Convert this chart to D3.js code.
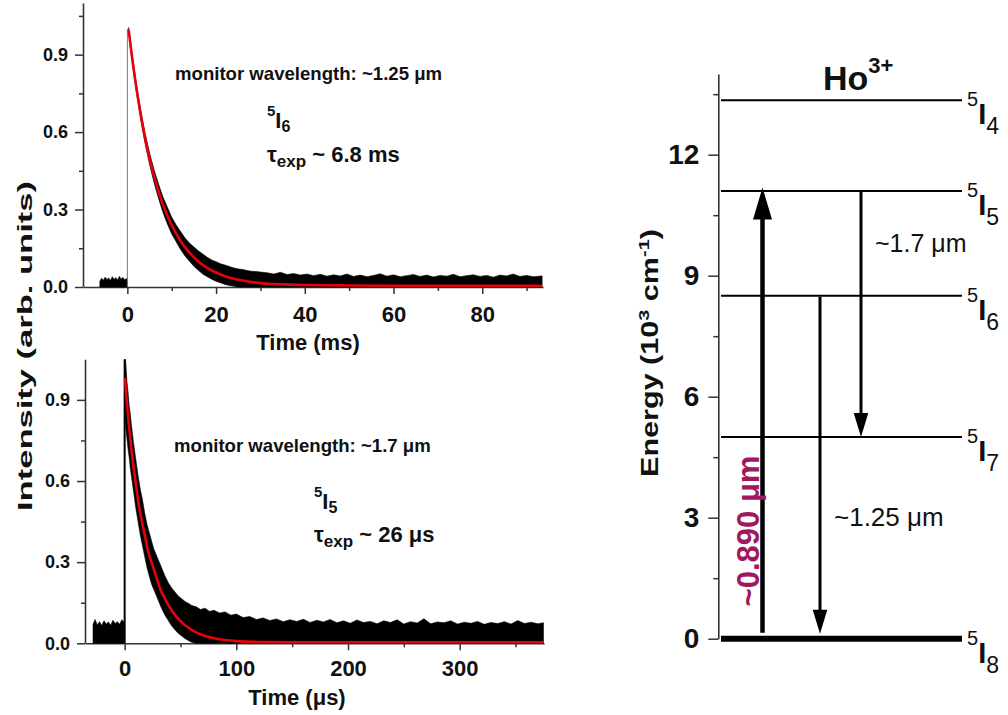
<!DOCTYPE html>
<html>
<head>
<meta charset="utf-8">
<script src="https://cdn.jsdelivr.net/npm/d3@7"></script>
<style>
  body { margin: 0; background: #fff; }
  svg { font-family: "Liberation Sans", Arial, sans-serif; }
</style>
</head>
<body>
<script>
// ---------- upper panel: 5I6 decay, time in ms ----------
let preTime1 = [-6.2, -5.8, -5.4, -5.0, -4.6, -4.2, -3.8, -3.4, -3.0, -2.6, -2.2, -1.8, -1.4, -1.0, -0.6, -0.2, 0];
let preHigh1 = [0.022, 0.034, 0.026, 0.038, 0.029, 0.035, 0.025, 0.04, 0.03, 0.036, 0.027, 0.041, 0.031, 0.037, 0.028, 0.033, 0.03];
let time1 = [0.3, 1, 2, 3, 4, 5, 6, 7, 8, 9,
  10, 11, 12, 13, 14, 15, 16, 17, 18, 19,
  20, 21, 22, 23, 24, 25, 26, 27, 28, 29,
  30, 31.5, 33, 34.5, 36, 37.5, 39, 40.5, 42, 43.5,
  45, 46.5, 48, 49.5, 51, 52.5, 54, 55.5, 57, 58.5,
  60, 61.5, 63, 64.5, 66, 67.5, 69, 70.5, 72, 73.5,
  75, 76.5, 78, 79.5, 81, 82.5, 84, 85.5, 87, 88.5,
  90, 91.5, 93.5];
let high1 = [1.005, 0.91, 0.79, 0.685, 0.595, 0.52, 0.455, 0.40, 0.35, 0.31,
  0.27, 0.24, 0.215, 0.19, 0.17, 0.155, 0.14, 0.128, 0.115, 0.105,
  0.098, 0.09, 0.085, 0.079, 0.074, 0.07, 0.068, 0.064, 0.061, 0.06,
  0.058, 0.055, 0.05, 0.057, 0.048, 0.052, 0.046, 0.05, 0.044, 0.049,
  0.042, 0.047, 0.043, 0.05, 0.041, 0.046, 0.04, 0.045, 0.051, 0.042,
  0.047, 0.04, 0.044, 0.048, 0.041, 0.046, 0.039, 0.045, 0.042, 0.049,
  0.04, 0.044, 0.047, 0.041, 0.045, 0.038, 0.046, 0.043, 0.05, 0.041,
  0.045, 0.04, 0.043];
let low1 = [0.985, 0.885, 0.76, 0.65, 0.555, 0.475, 0.405, 0.345, 0.29, 0.245,
  0.205, 0.175, 0.145, 0.12, 0.1, 0.08, 0.065, 0.05, 0.04, 0.03,
  0.022, 0.016, 0.01, 0.006, 0.003, 0, 0, 0, 0, 0,
  0, 0, 0, 0, 0, 0, 0, 0, 0, 0,
  0, 0, 0, 0, 0, 0, 0, 0, 0, 0,
  0, 0, 0, 0, 0, 0, 0, 0, 0, 0,
  0, 0, 0, 0, 0, 0, 0, 0, 0, 0,
  0, 0, 0];
let fitTime1 = [0.3, 1, 2, 3, 4, 5, 6, 7, 8, 9, 10, 12, 14, 16, 18, 20, 22, 24, 26, 28, 30, 35, 40, 50, 60, 93.5];
let fitValue1 = [0.995, 0.898, 0.775, 0.669, 0.577, 0.498, 0.43, 0.371, 0.32, 0.277, 0.239, 0.178, 0.133, 0.099, 0.074, 0.056, 0.042, 0.032, 0.025, 0.019, 0.015, 0.01, 0.008, 0.006, 0.005, 0.005];
let peak1 = 1.0;
let xTicks1 = [0, 20, 40, 60, 80];
let xMinor1 = [10, 30, 50, 70, 90];

// ---------- lower panel: 5I5 decay, time in us ----------
let preTime2 = [-28.3, -26.5, -24.5, -22.5, -20.5, -18.5, -16.5, -14.5, -12.5, -10.5, -8.5, -6.5, -4.5, -2.5, -0.5, 0];
let preHigh2 = [0.07, 0.088, 0.068, 0.08, 0.066, 0.083, 0.071, 0.079, 0.067, 0.085, 0.073, 0.08, 0.07, 0.087, 0.078, 0.08];
let time2 = [0.5, 1, 2, 3, 4, 5, 6, 8, 10, 12,
  14, 16, 18, 20, 22, 24, 26, 28, 30, 33,
  36, 39, 42, 45, 48, 51, 54, 57, 60, 64,
  68, 72, 76, 80, 85, 90, 95, 100, 106, 112,
  118, 124, 130, 136, 142, 148, 154, 160, 166, 172,
  178, 184, 190, 196, 202, 208, 214, 220, 226, 232,
  238, 244, 250, 256, 262, 268, 274, 280, 286, 292,
  298, 304, 310, 316, 322, 328, 334, 340, 346, 352,
  358, 364, 370, 375];
let high2 = [1.05, 1.04, 0.97, 0.93, 0.88, 0.85, 0.81, 0.74, 0.68, 0.62,
  0.57, 0.53, 0.48, 0.44, 0.41, 0.38, 0.35, 0.33, 0.31, 0.28,
  0.25, 0.225, 0.205, 0.19, 0.175, 0.165, 0.155, 0.148, 0.14, 0.135,
  0.125, 0.13, 0.118, 0.122, 0.112, 0.116, 0.104, 0.108, 0.095, 0.099,
  0.088, 0.094, 0.084, 0.09, 0.08, 0.087, 0.081, 0.089, 0.077, 0.085,
  0.079, 0.088, 0.076, 0.083, 0.074, 0.086, 0.077, 0.081, 0.072, 0.083,
  0.077, 0.087, 0.071, 0.08, 0.075, 0.091, 0.072, 0.079, 0.076, 0.083,
  0.071, 0.078, 0.074, 0.081, 0.07, 0.077, 0.073, 0.08, 0.071, 0.084,
  0.073, 0.078, 0.072, 0.076];
let low2 = [0.82, 0.8, 0.76, 0.72, 0.69, 0.65, 0.62, 0.56, 0.5, 0.45,
  0.4, 0.36, 0.32, 0.28, 0.25, 0.22, 0.2, 0.18, 0.16, 0.13,
  0.105, 0.085, 0.065, 0.05, 0.037, 0.027, 0.018, 0.01, 0.004, 0,
  0, 0, 0, 0, 0, 0, 0, 0, 0, 0,
  0, 0, 0, 0, 0, 0, 0, 0, 0, 0,
  0, 0, 0, 0, 0, 0, 0, 0, 0, 0,
  0, 0, 0, 0, 0, 0, 0, 0, 0, 0,
  0, 0, 0, 0, 0, 0, 0, 0, 0, 0,
  0, 0, 0, 0];
let fitTime2 = [0.3, 2, 4, 6, 8, 10, 12, 15, 18, 21, 24, 28, 32, 36, 40, 45, 50, 55, 60, 70, 80, 90, 100, 120, 150, 200, 375];
let fitValue2 = [0.98, 0.89, 0.8, 0.72, 0.65, 0.59, 0.53, 0.46, 0.4, 0.34, 0.3, 0.25, 0.2, 0.165, 0.135, 0.105, 0.082, 0.064, 0.05, 0.03, 0.019, 0.012, 0.008, 0.005, 0.004, 0.004, 0.004];
let peak2 = 1.05;
let xTicks2 = [0, 100, 200, 300];
let xMinor2 = [50, 150, 250, 350];

let yTicksDecay = [0, 0.3, 0.6, 0.9];
let yMinorDecay = [0.15, 0.45, 0.75, 1.05];

// ---------- energy levels of Ho3+ (10^3 cm^-1) ----------
let levelJ = ["8", "7", "6", "5", "4"];
let levelEnergy = [0, 5.0, 8.5, 11.1, 13.35];
let energyTicks = [0, 3, 6, 9, 12];
let energyMinor = [1.5, 4.5, 7.5, 10.5, 13.5];
let arrowFrom = ["8", "5", "6"];
let arrowTo = ["5", "7", "8"];
let arrowLabel = ["~0.890 \u03bcm", "~1.7 \u03bcm", "~1.25 \u03bcm"];

// ---------------------------------------------------------
let svg = d3.select("body").append("svg").attr("width", 1008).attr("height", 715);
svg.append("rect").attr("width", 1008).attr("height", 715).attr("fill", "#fff");

let axisColor = "#333";

let styleAxis = (g, size) => {
  g.select(".domain").attr("stroke", axisColor).attr("stroke-width", 1.6);
  g.selectAll(".tick line").attr("stroke", axisColor).attr("stroke-width", 1.5);
  g.selectAll(".tick text")
    .attr("fill", "#111")
    .style("font-size", size + "px")
    .style("font-weight", "bold");
};

let panel = (o) => {
  let x = d3.scaleLinear().domain(o.xDomain).range(o.xRange);
  let y = d3.scaleLinear().domain(o.yDomain).range(o.yRange);
  let g = svg.append("g");

  // axes
  let gx = g.append("g")
    .attr("transform", `translate(0,${y(0)})`)
    .call(d3.axisBottom(x).tickValues(o.xTicks).tickSize(7).tickSizeOuter(0).tickFormat(d3.format("d")));
  styleAxis(gx, 22);
  gx.selectAll(".tick text").attr("y", o.xLabelOffset).attr("dy", 0);
  let gxm = g.append("g")
    .attr("transform", `translate(0,${y(0)})`)
    .call(d3.axisBottom(x).tickValues(o.xMinor).tickSize(4).tickFormat(""));
  gxm.select(".domain").remove();
  gxm.selectAll(".tick line").attr("stroke", axisColor).attr("stroke-width", 1.5);

  let gy = g.append("g")
    .attr("transform", `translate(${o.xRange[0]},0)`)
    .call(d3.axisLeft(y).tickValues(yTicksDecay).tickSize(8).tickSizeOuter(0).tickFormat(d3.format(".1f")));
  styleAxis(gy, 18);
  gy.selectAll(".tick text").attr("x", -15);
  let gym = g.append("g")
    .attr("transform", `translate(${o.xRange[0]},0)`)
    .call(d3.axisLeft(y).tickValues(o.yMinor).tickSize(4).tickFormat(""));
  gym.select(".domain").remove();
  gym.selectAll(".tick line").attr("stroke", axisColor).attr("stroke-width", 1.5);

  // measured trace: noise band
  let area = d3.area().x((d) => x(d.t)).y0((d) => y(d.lo)).y1((d) => y(d.hi));
  let pre = o.preT.map((t, i) => ({ t: t, lo: 0, hi: o.preHi[i] }));
  let dec = o.t.map((t, i) => ({ t: t, lo: o.lo[i], hi: o.hi[i] }));
  g.append("path").datum(pre).attr("d", area)
    .attr("fill", "#000").attr("stroke", "#000").attr("stroke-width", 0.6);
  g.append("line")
    .attr("x1", x(0)).attr("x2", x(0))
    .attr("y1", y(0)).attr("y2", y(o.peak))
    .attr("stroke", o.edgeColor).attr("stroke-width", o.edgeWidth);
  g.append("path").datum(dec).attr("d", area)
    .attr("fill", "#000").attr("stroke", "#000").attr("stroke-width", 0.6);

  // exponential fit
  let fit = o.fitT.map((t, i) => ({ t: t, v: o.fitV[i] }));
  g.append("path").datum(fit)
    .attr("d", d3.line().x((d) => x(d.t)).y((d) => y(d.v)).curve(d3.curveMonotoneX))
    .attr("fill", "none").attr("stroke", "#e8000b").attr("stroke-width", 2.6);

  // axis title
  g.append("text")
    .attr("x", o.titleX).attr("y", o.titleY)
    .attr("text-anchor", "middle")
    .style("font-size", "22px").style("font-weight", "bold").attr("fill", "#111")
    .text(o.title);

  // annotations
  let a = o.note;
  g.append("text").attr("x", a.x).attr("y", a.y)
    .style("font-size", "18.6px").style("font-weight", "bold").attr("fill", "#111")
    .text(a.monitor);
  let lv = g.append("text").attr("x", a.lx).attr("y", a.ly)
    .style("font-weight", "bold").attr("fill", "#111");
  lv.append("tspan").style("font-size", "15px").attr("dy", -12).text("5");
  lv.append("tspan").style("font-size", "22px").attr("dy", 12).text("I");
  lv.append("tspan").style("font-size", "16px").attr("dy", 4).text(a.j);
  let tau = g.append("text").attr("x", a.lx).attr("y", a.ty)
    .style("font-weight", "bold").attr("fill", "#111");
  tau.append("tspan").style("font-size", "22px").text("\u03c4");
  tau.append("tspan").style("font-size", "17px").attr("dy", 5).text("exp");
  tau.append("tspan").style("font-size", "22px").attr("dy", -5).text(" ~ " + a.tau);
};

panel({
  xDomain: [-10, 93.7], xRange: [83, 543],
  yDomain: [0, 1.1], yRange: [287, 3],
  xTicks: xTicks1, xMinor: xMinor1, yMinor: yMinorDecay,
  xLabelOffset: 35,
  preT: preTime1, preHi: preHigh1,
  t: time1, hi: high1, lo: low1,
  fitT: fitTime1, fitV: fitValue1,
  peak: peak1, edgeColor: "#777", edgeWidth: 1,
  title: "Time (ms)", titleX: 308, titleY: 350,
  note: { x: 175, y: 80, monitor: "monitor wavelength: ~1.25 \u03bcm",
          lx: 267, ly: 128, j: "6", ty: 162, tau: "6.8 ms" }
});

panel({
  xDomain: [-35.5, 375.5], xRange: [85, 544],
  yDomain: [0, 1.05], yRange: [643.3, 359.3],
  xTicks: xTicks2, xMinor: xMinor2, yMinor: yMinorDecay.slice(0, 3),
  xLabelOffset: 33,
  preT: preTime2, preHi: preHigh2,
  t: time2, hi: high2, lo: low2,
  fitT: fitTime2, fitV: fitValue2,
  peak: peak2, edgeColor: "#000", edgeWidth: 2,
  title: "Time (\u03bcs)", titleX: 297, titleY: 705,
  note: { x: 174, y: 452, monitor: "monitor wavelength: ~1.7 \u03bcm",
          lx: 314, ly: 509, j: "5", ty: 542, tau: "26 \u03bcs" }
});

// shared y title of the decay panels
svg.append("text")
  .attr("transform", "translate(32,346) rotate(-90)")
  .attr("text-anchor", "middle")
  .attr("textLength", 330).attr("lengthAdjust", "spacingAndGlyphs")
  .style("font-size", "21px").style("font-weight", "bold").attr("fill", "#111")
  .text("Intensity (arb. units)");

// ---------- energy level diagram ----------
let yE = d3.scaleLinear().domain([0, 14]).range([638.7, 74]);
let levelX0 = 721, levelX1 = 962;
let axisX = 718.3;

let ge = svg.append("g").attr("transform", `translate(${axisX},0)`)
  .call(d3.axisLeft(yE).tickValues(energyTicks).tickSize(10).tickSizeOuter(0).tickFormat(d3.format("d")));
styleAxis(ge, 28);
ge.selectAll(".tick text").attr("x", -19);
let gem = svg.append("g").attr("transform", `translate(${axisX},0)`)
  .call(d3.axisLeft(yE).tickValues(energyMinor).tickSize(5).tickFormat(""));
gem.select(".domain").remove();
gem.selectAll(".tick line").attr("stroke", axisColor).attr("stroke-width", 1.5);

let et = svg.append("text")
  .attr("transform", "translate(658,353) rotate(-90)")
  .attr("text-anchor", "middle")
  .attr("textLength", 248).attr("lengthAdjust", "spacingAndGlyphs")
  .style("font-size", "23px").style("font-weight", "bold").attr("fill", "#111");
et.append("tspan").text("Energy (10");
et.append("tspan").style("font-size", "15px").attr("dy", -9).text("3");
et.append("tspan").attr("dy", 9).text(" cm");
et.append("tspan").style("font-size", "15px").attr("dy", -9).text("-1");
et.append("tspan").attr("dy", 9).text(")");

let levels = levelJ.map((j, i) => ({ j: j, e: levelEnergy[i] }));
svg.selectAll(".level").data(levels).enter().append("line")
  .attr("class", "level")
  .attr("x1", levelX0).attr("x2", levelX1)
  .attr("y1", (d) => yE(d.e)).attr("y2", (d) => yE(d.e))
  .attr("stroke", "#000")
  .attr("stroke-width", (d) => (d.e === 0 ? 6 : 2));

// term symbols 5I_J, one text each
let labels = svg.selectAll(".lvlab").data(levels).enter().append("text")
  .attr("class", "lvlab")
  .attr("x", 967)
  .attr("y", (d) => yE(d.e) + 6)
  .attr("fill", "#111");
labels.append("tspan").style("font-size", "20px").text("5");
labels.append("tspan").style("font-size", "29px").style("font-weight", "bold").attr("dy", 18).text("I");
labels.append("tspan").style("font-size", "23px").attr("dy", 10).text((d) => d.j);

let ho = svg.append("text").attr("x", 823).attr("y", 90).attr("fill", "#111").style("font-weight", "bold");
ho.append("tspan").style("font-size", "34px").text("Ho");
ho.append("tspan").style("font-size", "22px").attr("dy", -17).text("3+");

// transitions
let energyOf = (j) => levelEnergy[levelJ.indexOf(j)];
let arrowX = [762.5, 861, 820];
let arrows = arrowFrom.map((f, i) => ({ from: energyOf(f), to: energyOf(arrowTo[i]), label: arrowLabel[i], x: arrowX[i] }));

arrows.forEach((d) => {
  let up = d.to > d.from;
  let y0 = up ? yE(d.from) - 6 : yE(d.from) + 1;
  let y1 = up ? yE(d.to) - 3.5 : yE(d.to) - (d.to === 0 ? 5 : 0);
  let head = up ? 32 : 24;
  let half = up ? 9.5 : 7.3;
  let dir = up ? 1 : -1;
  svg.append("line")
    .attr("x1", d.x).attr("x2", d.x)
    .attr("y1", y0).attr("y2", y1 + dir * head * 0.8)
    .attr("stroke", "#000").attr("stroke-width", up ? 4.5 : 3);
  svg.append("path")
    .attr("d", `M${d.x},${y1} L${d.x - half},${y1 + dir * head} L${d.x + half},${y1 + dir * head} Z`)
    .attr("fill", "#000");
});

svg.append("text")
  .attr("transform", "translate(759,531) rotate(-90)")
  .attr("text-anchor", "middle")
  .style("font-size", "31px").style("font-weight", "bold")
  .attr("fill", "#a0185e")
  .text(arrows[0].label);
svg.append("text").attr("x", 875).attr("y", 252)
  .style("font-size", "25px").attr("fill", "#111")
  .text(arrows[1].label);
svg.append("text").attr("x", 834).attr("y", 526)
  .style("font-size", "26px").attr("fill", "#111")
  .text(arrows[2].label);
</script>
</body>
</html>
